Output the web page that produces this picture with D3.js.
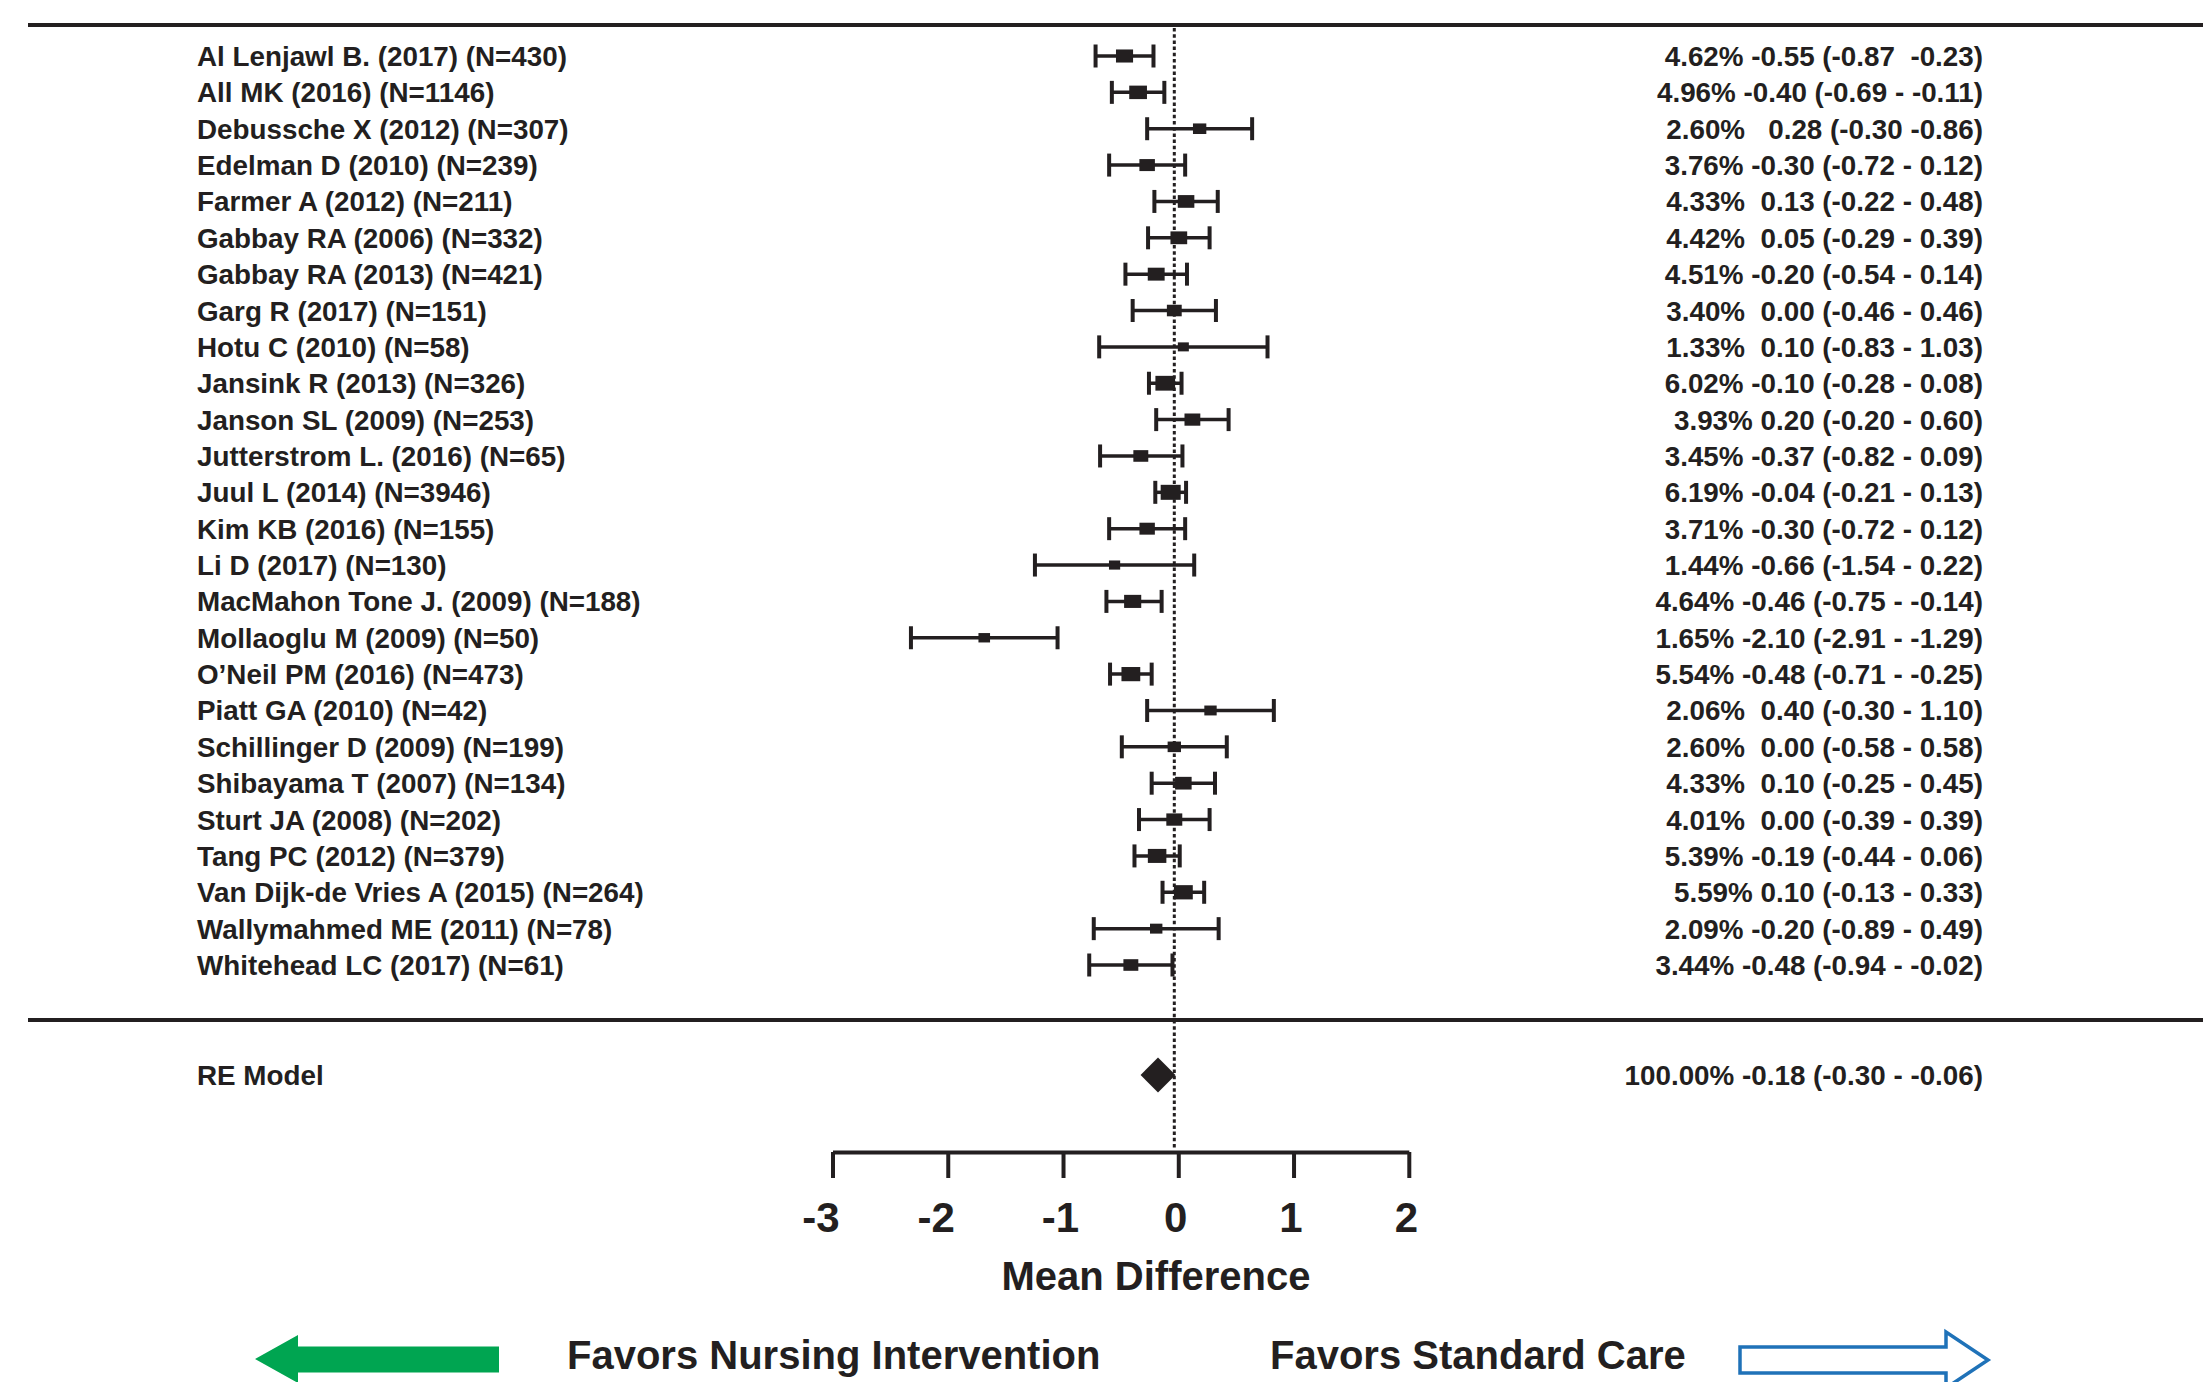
<!DOCTYPE html>
<html>
<head>
<meta charset="utf-8">
<script src="https://cdn.jsdelivr.net/npm/d3@7"></script>
<style>
body{margin:0;background:#fff}
text{font-family:"Liberation Sans",Arial,Helvetica,sans-serif;font-weight:bold;fill:#231f20;white-space:pre}
</style>
</head>
<body>
<div id="plot"></div>
<script>
var studies = ["Al Lenjawl B. (2017) (N=430)","All MK (2016) (N=1146)","Debussche X (2012) (N=307)","Edelman D (2010) (N=239)",
	"Farmer A (2012) (N=211)","Gabbay RA (2006) (N=332)","Gabbay RA (2013) (N=421)","Garg R (2017) (N=151)","Hotu C (2010) (N=58)",
	"Jansink R (2013) (N=326)","Janson SL (2009) (N=253)","Jutterstrom L. (2016) (N=65)","Juul L (2014) (N=3946)","Kim KB (2016) (N=155)",
	"Li D (2017) (N=130)","MacMahon Tone J. (2009) (N=188)","Mollaoglu M (2009) (N=50)","O\u2019Neil PM (2016) (N=473)","Piatt GA (2010) (N=42)",
	"Schillinger D (2009) (N=199)","Shibayama T (2007) (N=134)","Sturt JA (2008) (N=202)","Tang PC (2012) (N=379)",
	"Van Dijk-de Vries A (2015) (N=264)","Wallymahmed ME (2011) (N=78)","Whitehead LC (2017) (N=61)"]
var est = [-0.55,-0.40,0.28,-0.30,0.13,0.05,-0.20,0.00,0.10,-0.10,0.20,-0.37,-0.04,-0.30,-0.66,-0.46,-2.10,-0.48,0.40,0.00,0.10,0.00,-0.19,0.10,-0.20,-0.48]
var lo = [-0.87,-0.69,-0.30,-0.72,-0.22,-0.29,-0.54,-0.46,-0.83,-0.28,-0.20,-0.82,-0.21,-0.72,-1.54,-0.75,-2.91,-0.71,-0.30,-0.58,-0.25,-0.39,-0.44,-0.13,-0.89,-0.94]
var hi = [-0.23,-0.11,0.86,0.12,0.48,0.39,0.14,0.46,1.03,0.08,0.60,0.09,0.13,0.12,0.22,-0.14,-1.29,-0.25,1.10,0.58,0.45,0.39,0.06,0.33,0.49,-0.02]
var weight = [4.62,4.96,2.60,3.76,4.33,4.42,4.51,3.40,1.33,6.02,3.93,3.45,6.19,3.71,1.44,4.64,1.65,5.54,2.06,2.60,4.33,4.01,5.39,5.59,2.09,3.44]
var stats = ["4.62% -0.55 (-0.87  -0.23)","4.96% -0.40 (-0.69 - -0.11)","2.60%   0.28 (-0.30 -0.86)","3.76% -0.30 (-0.72 - 0.12)",
	"4.33%  0.13 (-0.22 - 0.48)","4.42%  0.05 (-0.29 - 0.39)","4.51% -0.20 (-0.54 - 0.14)","3.40%  0.00 (-0.46 - 0.46)",
	"1.33%  0.10 (-0.83 - 1.03)","6.02% -0.10 (-0.28 - 0.08)","3.93% 0.20 (-0.20 - 0.60)","3.45% -0.37 (-0.82 - 0.09)",
	"6.19% -0.04 (-0.21 - 0.13)","3.71% -0.30 (-0.72 - 0.12)","1.44% -0.66 (-1.54 - 0.22)","4.64% -0.46 (-0.75 - -0.14)",
	"1.65% -2.10 (-2.91 - -1.29)","5.54% -0.48 (-0.71 - -0.25)","2.06%  0.40 (-0.30 - 1.10)","2.60%  0.00 (-0.58 - 0.58)",
	"4.33%  0.10 (-0.25 - 0.45)","4.01%  0.00 (-0.39 - 0.39)","5.39% -0.19 (-0.44 - 0.06)","5.59% 0.10 (-0.13 - 0.33)",
	"2.09% -0.20 (-0.89 - 0.49)","3.44% -0.48 (-0.94 - -0.02)"]
var pooledLabel = "RE Model"
var pooledEst = -0.18
var pooledStat = "100.00% -0.18 (-0.30 - -0.06)"
var axisTicks = [-3,-2,-1,0,1,2]
var axisTitle = "Mean Difference"
var favorLeft = "Favors Nursing Intervention"
var favorRight = "Favors Standard Care"

var W = 2203, H = 1382, ink = "#231f20", fs = "27.8px"
var svg = d3.select("#plot").append("svg").attr("width", W).attr("height", H)

// marks and the printed axis were drawn on different scales in the original
var x = d3.scaleLinear().domain([-3, 2]).range([902.8, 1355.3])
var xAx = d3.scaleLinear().domain([-3, 2]).range([832.5, 1408.8])
var y = d3.scalePoint().domain(studies).range([56, 965])
var bw = d3.scaleLinear().domain([1.33, 6.19]).range([11, 20])
var bh = d3.scaleLinear().domain([1.33, 6.19]).range([9, 15])
var rows = studies.map(function(s, i){ return {name: s, est: est[i], lo: lo[i], hi: hi[i], w: weight[i], stat: stats[i]} })

// rules
svg.append("line").attr("x1", 28).attr("x2", W).attr("y1", 25).attr("y2", 25).attr("stroke", ink).attr("stroke-width", 4)
svg.append("line").attr("x1", 28).attr("x2", W).attr("y1", 1020).attr("y2", 1020).attr("stroke", ink).attr("stroke-width", 4)
svg.append("line").attr("x1", x(0)).attr("x2", x(0)).attr("y1", 28).attr("y2", 1149)
	.attr("stroke", ink).attr("stroke-width", 3).attr("stroke-dasharray", "3.5,2.7")

// labels
svg.append("g").selectAll("text").data(rows).enter().append("text")
	.attr("x", 197).attr("y", function(d){ return y(d.name) }).attr("dy", "0.36em")
	.style("font-size", fs).text(function(d){ return d.name })
svg.append("g").selectAll("text").data(rows).enter().append("text")
	.attr("x", 1983).attr("y", function(d){ return y(d.name) }).attr("dy", "0.36em")
	.attr("text-anchor", "end").style("font-size", fs).text(function(d){ return d.stat })

// CIs
var ci = svg.append("g").selectAll("g").data(rows).enter().append("g")
	.attr("transform", function(d){ return "translate(0," + y(d.name) + ")" })
ci.append("line").attr("x1", function(d){ return x(d.lo) }).attr("x2", function(d){ return x(d.hi) })
	.attr("stroke", ink).attr("stroke-width", 3.5)
ci.append("line").attr("x1", function(d){ return x(d.lo) }).attr("x2", function(d){ return x(d.lo) })
	.attr("y1", -11.5).attr("y2", 11.5).attr("stroke", ink).attr("stroke-width", 4)
ci.append("line").attr("x1", function(d){ return x(d.hi) }).attr("x2", function(d){ return x(d.hi) })
	.attr("y1", -11.5).attr("y2", 11.5).attr("stroke", ink).attr("stroke-width", 4)
ci.append("rect").attr("x", function(d){ return x(d.est) - bw(d.w)/2 }).attr("y", function(d){ return -bh(d.w)/2 })
	.attr("width", function(d){ return bw(d.w) }).attr("height", function(d){ return bh(d.w) }).attr("fill", ink)

// pooled
var py = 1075
svg.append("text").attr("x", 197).attr("y", py).attr("dy", "0.36em").style("font-size", fs).text(pooledLabel)
svg.append("text").attr("x", 1983).attr("y", py).attr("dy", "0.36em").attr("text-anchor", "end").style("font-size", fs).text(pooledStat)
svg.append("path").attr("transform", "translate(" + x(pooledEst) + "," + py + ") rotate(45)")
	.attr("d", d3.symbol().type(d3.symbolSquare).size(610)).attr("fill", ink)

// axis
var ax = svg.append("g").attr("transform", "translate(0,1152)")
	.call(d3.axisBottom(xAx).tickValues(axisTicks).tickSize(26).tickSizeOuter(0).tickPadding(24).tickFormat(d3.format("d")))
ax.select(".domain").attr("stroke", ink).attr("stroke-width", 4)
ax.selectAll(".tick line").attr("stroke", ink).attr("stroke-width", 4)
ax.selectAll(".tick text").attr("fill", ink).style("font-size", "42px")
	.style("font-family", "\"Liberation Sans\",Arial,sans-serif").style("font-weight", "bold")
	.attr("dx", function(d){ return d < -1 ? -12 : -3 })
	.text(function(d){ return d < 0 ? "-" + Math.abs(d) : d })
svg.append("text").attr("x", 1156).attr("y", 1290).attr("text-anchor", "middle").style("font-size", "40px").text(axisTitle)

// favors arrows
svg.append("path").attr("d", "M255,1359 L298,1335 L298,1346.5 L499,1346.5 L499,1372.5 L298,1372.5 L298,1383 Z").attr("fill", "#00a551")
svg.append("path").attr("d", "M1740,1347 L1946,1347 L1946,1332 L1988,1360 L1946,1388 L1946,1373 L1740,1373 Z")
	.attr("fill", "#fff").attr("stroke", "#1f72b8").attr("stroke-width", 3.5)
svg.append("text").attr("x", 567).attr("y", 1369).style("font-size", "40px").text(favorLeft)
svg.append("text").attr("x", 1270).attr("y", 1369).style("font-size", "40px").text(favorRight)
</script>
</body>
</html>
